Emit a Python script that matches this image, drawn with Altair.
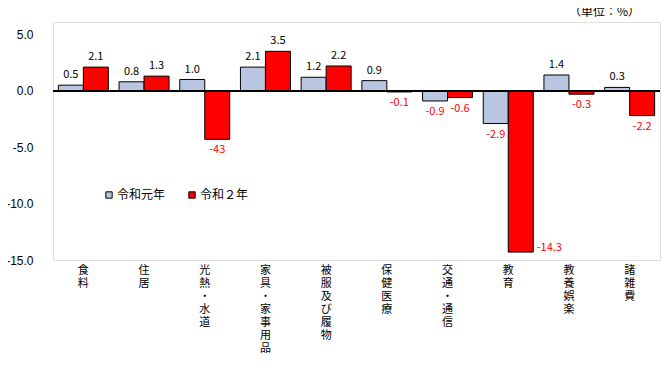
import altair as alt
import pandas as pd

categories = ["食料", "住居", "光熱・水道", "家具・家事用品", "被服及び履物",
              "保健医療", "交通・通信", "教育", "教養娯楽", "諸雑費"]
series = ["令和元年", "令和２年"]
values_r1 = [0.5, 0.8, 1.0, 2.1, 1.2, 0.9, -0.9, -2.9, 1.4, 0.3]
values_r2 = [2.1, 1.3, -4.3, 3.5, 2.2, -0.1, -0.6, -14.3, -0.3, -2.2]
labels_r1 = ["0.5", "0.8", "1.0", "2.1", "1.2", "0.9", "-0.9", "-2.9", "1.4", "0.3"]
labels_r2 = ["2.1", "1.3", "-43", "3.5", "2.2", "-0.1", "-0.6", "-14.3", "-0.3", "-2.2"]
y_ticks = [5, 0, -5, -10, -15]
unit_text = ["（単位：%）"]

rows = []
for c, v, l in zip(categories, values_r1, labels_r1):
    rows.append({"cat": c, "series": series[0], "value": v, "label": l})
for c, v, l in zip(categories, values_r2, labels_r2):
    rows.append({"cat": c, "series": series[1], "value": v, "label": l})
df = pd.DataFrame(rows)

FONT = "Noto Sans CJK JP"

x_enc = alt.X("cat:N", sort=categories, title=None,
              scale=alt.Scale(paddingInner=0, paddingOuter=0),
              axis=alt.Axis(labelAngle=0, labelExpr="split(datum.label, '')",
                            labelLineHeight=13, labelBaseline="top",
                            labelPadding=4, ticks=False, domain=False,
                            labelFont=FONT, labelFontSize=11, labelColor="black"))
xoff = alt.XOffset("series:N", sort=series,
                   scale=alt.Scale(paddingInner=0, paddingOuter=0.214))
y_scale = alt.Scale(domain=[-15, 6.1], nice=False, zero=False)

base = alt.Chart(df)

bars = base.mark_bar(stroke="black", strokeWidth=1).encode(
    x=x_enc,
    xOffset=xoff,
    y=alt.Y("value:Q", scale=y_scale, title=None,
            axis=alt.Axis(values=y_ticks, grid=False, ticks=False, domain=False,
                          labelExpr="replace(format(datum.value, '.1f'), '\u2212', '-')",
                          labelPadding=20, labelFont="Liberation Sans",
                          labelFontSize=12, labelColor="black")),
    y2=alt.datum(0),
    color=alt.Color("series:N", sort=series,
                    scale=alt.Scale(domain=series, range=["#b9c6e2", "#ff0000"]),
                    legend=alt.Legend(title=None, orient="none", legendX=50, legendY=167,
                                      direction="horizontal", symbolType="square",
                                      symbolSize=40, symbolStrokeColor="black",
                                      symbolStrokeWidth=1, labelFont=FONT,
                                      labelFontSize=12, labelColor="black",
                                      labelOffset=2, columnPadding=20)),
)

zero = base.mark_rule(color="black", strokeWidth=1).encode(y=alt.datum(0))

pos_text = base.transform_filter("datum.value >= 0").mark_text(
    baseline="bottom", dy=-5, font=FONT, fontSize=11, color="black"
).encode(x=x_enc, xOffset=xoff, y=alt.Y("value:Q", scale=y_scale), text="label:N")

neg_text = base.transform_filter("datum.value < 0 && datum.value > -10").mark_text(
    baseline="top", dy=5, font=FONT, fontSize=11, color="#ff0000"
).encode(x=x_enc, xOffset=xoff, y=alt.Y("value:Q", scale=y_scale), text="label:N")

big_text = base.transform_filter("datum.value <= -10").mark_text(
    baseline="middle", align="left", dx=16, dy=-4, font=FONT, fontSize=11, color="#ff0000"
).encode(x=x_enc, xOffset=xoff, y=alt.Y("value:Q", scale=y_scale), text="label:N")

unit = alt.Chart(pd.DataFrame({"t": unit_text})).mark_text(
    align="right", baseline="middle", font=FONT, fontSize=12, color="black"
).encode(x=alt.value(587), y=alt.value(-10), text="t:N")

chart = alt.layer(bars, zero, pos_text, neg_text, big_text, unit).properties(
    width=607, height=238,
    autosize=alt.AutoSizeParams(type="none"),
    padding={"left": 45, "top": 14, "right": 2, "bottom": 124},
).configure_view(stroke="black", strokeWidth=1).configure(background="white")

chart.save("out.html", embed_options={"renderer": "svg", "actions": False})
